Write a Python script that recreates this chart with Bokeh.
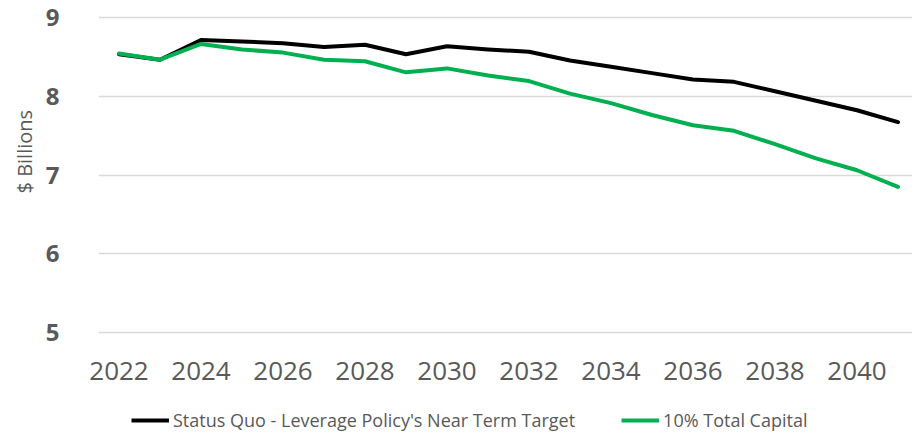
import math
from bokeh.plotting import figure
from bokeh.layouts import column
from bokeh.models import Legend, LegendItem, Title, FixedTicker, Range1d
from bokeh.embed import file_html
from bokeh.resources import INLINE

years = list(range(2022, 2042))
status_quo = [8.53, 8.46, 8.71, 8.69, 8.67, 8.62, 8.65, 8.53, 8.63, 8.59,
              8.56, 8.45, 8.37, 8.29, 8.21, 8.18, 8.06, 7.94, 7.82, 7.67]
total_capital = [8.54, 8.46, 8.66, 8.59, 8.55, 8.46, 8.44, 8.30, 8.35, 8.26,
                 8.19, 8.03, 7.91, 7.76, 7.63, 7.56, 7.39, 7.21, 7.06, 6.85]
x_ticks = list(range(2022, 2041, 2))
y_ticks = [5, 6, 7, 8, 9]
series_names = ["Status Quo - Leverage Policy's Near Term Target", "10% Total Capital"]
series_colors = ["#000000", "#00B050"]
y_title = "$ Billions"

FONT = "Open Sans"
GREY = "#595959"

p = figure(frame_width=814, frame_height=319,
           x_range=Range1d(2021.5, 2021.5 + 814 / 41),
           y_range=Range1d(4.98, 9.02),
           output_backend="svg", toolbar_location=None,
           min_border_left=98, min_border_top=15, min_border_right=0,
           min_border_bottom=75)
p.outline_line_color = None
p.background_fill_color = "white"
p.border_fill_color = "white"

p.line(years, status_quo, line_color=series_colors[0], line_width=4,
       line_join="round", line_cap="round")
p.line(years, total_capital, line_color=series_colors[1], line_width=4,
       line_join="round", line_cap="round")

xa = p.xaxis[0]
xa.ticker = FixedTicker(ticks=x_ticks)
xa.axis_label = None
xa.axis_line_color = None
xa.major_tick_line_color = None
xa.minor_tick_line_color = None
xa.major_label_text_font = FONT
xa.major_label_text_font_size = "26px"
xa.major_label_text_color = GREY
xa.major_label_standoff = 21

ya = p.yaxis[0]
ya.ticker = FixedTicker(ticks=y_ticks)
ya.axis_label = None
ya.axis_line_color = None
ya.major_tick_line_color = None
ya.minor_tick_line_color = None
ya.major_label_text_font = FONT
ya.major_label_text_font_size = "24px"
ya.major_label_text_font_style = "bold"
ya.major_label_text_color = GREY
ya.major_label_standoff = 33

p.xgrid.grid_line_color = None
p.ygrid.ticker = FixedTicker(ticks=y_ticks)
p.ygrid.grid_line_color = "#D9D9D9"
p.ygrid.grid_line_width = 1.5

p.add_layout(Title(text=y_title, align="left", offset=141, standoff=10,
                   text_font=FONT, text_font_size="20px", text_color=GREY,
                   text_font_style="normal"), "left")

# legend strip below the chart
lg = figure(width=912, height=27, x_range=Range1d(0, 1), y_range=Range1d(0, 1),
            x_axis_type=None, y_axis_type=None, output_backend="svg",
            toolbar_location=None, min_border=0)
lg.outline_line_color = None
lg.grid.visible = False
l1 = lg.line(years, status_quo, line_color=series_colors[0], line_width=4)
l2 = lg.line(years, total_capital, line_color=series_colors[1], line_width=4)
legend = Legend(items=[LegendItem(label=series_names[0], renderers=[l1]),
                       LegendItem(label=series_names[1], renderers=[l2])],
                orientation="horizontal", location=(33, 4),
                glyph_width=38, glyph_height=20, label_height=20,
                label_standoff=4, spacing=46,
                label_text_font=FONT, label_text_font_size="18px",
                label_text_color=GREY, border_line_color=None,
                background_fill_alpha=0, padding=0, margin=0)
lg.add_layout(legend, "center")

layout = column(p, lg, spacing=0)
open("out.html", "w").write(file_html(layout, INLINE))
